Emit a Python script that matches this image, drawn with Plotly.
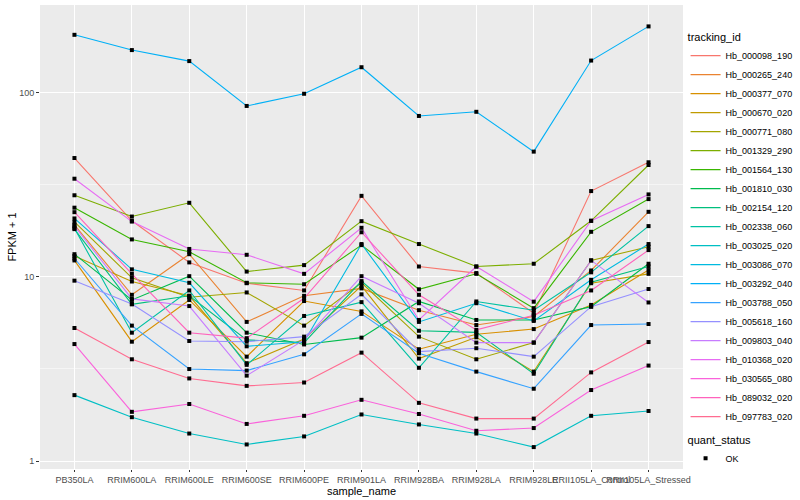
import plotly.graph_objects as go

samples = ["PB350LA", "RRIM600LA", "RRIM600LE", "RRIM600SE", "RRIM600PE", "RRIM901LA",
           "RRIM928BA", "RRIM928LA", "RRIM928LE", "RRII105LA_Control", "RRII105LA_Stressed"]

tracking_ids = ["Hb_000098_190", "Hb_000265_240", "Hb_000377_070", "Hb_000670_020", "Hb_000771_080",
                "Hb_001329_290", "Hb_001564_130", "Hb_001810_030", "Hb_002154_120", "Hb_002338_060",
                "Hb_003025_020", "Hb_003086_070", "Hb_003292_040", "Hb_003788_050", "Hb_005618_160",
                "Hb_009803_040", "Hb_010368_020", "Hb_030565_080", "Hb_089032_020", "Hb_097783_020"]

colors = ["#F8766D", "#EA8331", "#D89000", "#C09B00", "#A3A500", "#7CAE00", "#39B600", "#00BB4E",
          "#00BF7D", "#00C1A3", "#00BFC4", "#00BAE0", "#00B0F6", "#35A2FF", "#9590FF", "#C77CFF",
          "#E76BF3", "#FA62DB", "#FF62BC", "#FF6C91"]

# FPKM + 1 values, one list per tracking_id (order of samples)
Hb_000098_190 = [44.3, 20.2, 12.0, 9.25, 8.45, 27.6, 11.4, 10.5, 6.35, 29.3, 42.0]
Hb_000265_240 = [19.2, 8.0, 13.3, 5.7, 7.9, 8.67, 6.6, 5.48, 6.1, 10.85, 22.6]
Hb_000377_070 = [12.3, 4.45, 7.5, 3.69, 7.4, 6.5, 4.05, 4.88, 5.21, 7.05, 10.9]
Hb_000670_020 = [13.0, 9.45, 7.9, 3.4, 4.6, 8.95, 3.6, 4.7, 3.06, 9.25, 10.4]
Hb_000771_080 = [19.9, 9.9, 7.76, 8.24, 5.44, 9.3, 4.74, 3.57, 4.4, 12.3, 14.6]
Hb_001329_290 = [27.8, 21.3, 25.3, 10.7, 11.6, 20.1, 15.1, 11.4, 11.8, 20.2, 40.6]
Hb_001564_130 = [23.8, 16.0, 13.7, 9.3, 9.13, 14.9, 8.57, 10.4, 6.77, 17.6, 26.5]
Hb_001810_030 = [13.3, 7.5, 10.1, 4.98, 4.3, 4.68, 7.36, 5.84, 5.84, 6.9, 11.8]
Hb_002154_120 = [18.2, 7.1, 7.9, 4.55, 4.4, 9.5, 5.1, 5.0, 2.98, 9.37, 11.4]
Hb_002338_060 = [18.4, 4.98, 8.45, 3.33, 6.14, 7.3, 3.21, 7.36, 6.6, 10.6, 18.9]
Hb_003025_020 = [2.28, 1.73, 1.41, 1.23, 1.36, 1.79, 1.58, 1.41, 1.19, 1.76, 1.87]
Hb_003086_070 = [20.8, 11.0, 9.3, 4.2, 4.45, 15.1, 5.7, 7.2, 5.77, 9.65, 15.1]
Hb_003292_040 = [207, 171, 149, 85, 99, 138, 75, 79, 48, 150, 230]
Hb_003788_050 = [12.6, 5.44, 3.16, 3.1, 3.8, 6.3, 3.85, 3.06, 2.47, 5.48, 5.55]
Hb_005618_160 = [9.55, 7.13, 4.49, 4.45, 4.74, 8.05, 3.93, 4.1, 3.69, 6.9, 8.6]
Hb_009803_040 = [18.9, 7.6, 6.95, 2.91, 4.55, 10.1, 7.2, 4.4, 4.4, 12.3, 7.27]
Hb_010368_020 = [34.2, 20.0, 14.2, 13.2, 10.4, 18.5, 5.84, 11.4, 7.34, 20.2, 28.1]
Hb_030565_080 = [4.32, 1.85, 2.04, 1.59, 1.76, 2.15, 1.80, 1.46, 1.51, 2.43, 3.3]
Hb_089032_020 = [22.5, 10.4, 4.98, 4.65, 7.66, 17.5, 8.0, 5.16, 6.2, 8.45, 14.0]
Hb_097783_020 = [5.28, 3.57, 2.81, 2.56, 2.67, 3.88, 2.07, 1.70, 1.70, 3.03, 4.43]

series = [Hb_000098_190, Hb_000265_240, Hb_000377_070, Hb_000670_020, Hb_000771_080,
          Hb_001329_290, Hb_001564_130, Hb_001810_030, Hb_002154_120, Hb_002338_060,
          Hb_003025_020, Hb_003086_070, Hb_003292_040, Hb_003788_050, Hb_005618_160,
          Hb_009803_040, Hb_010368_020, Hb_030565_080, Hb_089032_020, Hb_097783_020]

y_ticks = [1, 10, 100]
y_ticktext = ["1", "10", "100"]

fig = go.Figure()

for name, vals, col in zip(tracking_ids, series, colors):
    fig.add_trace(go.Scatter(x=samples, y=vals, mode="lines", name=name,
                             line=dict(color=col, width=1.1), legend="legend",
                             hoverinfo="skip"))

all_x = [s for vals in series for s in samples]
all_y = [v for vals in series for v in vals]
fig.add_trace(go.Scatter(x=all_x, y=all_y, mode="markers", name="OK",
                         marker=dict(color="black", symbol="square", size=4),
                         legend="legend2", hoverinfo="skip"))

fig.update_layout(
    width=800, height=500,
    margin=dict(l=40, r=117, t=5, b=31, autoexpand=False),
    paper_bgcolor="white", plot_bgcolor="#EBEBEB",
    font=dict(family="Liberation Sans, Arial, sans-serif", color="black"),
    showlegend=True,
    legend=dict(title=dict(text="tracking_id", font=dict(size=11)),
                font=dict(size=9), x=1.004, xanchor="left", y=0.953, yanchor="top",
                tracegroupgap=0, itemwidth=30, bgcolor="rgba(0,0,0,0)"),
    legend2=dict(title=dict(text="quant_status", font=dict(size=11)),
                 font=dict(size=9), x=1.004, xanchor="left", y=0.085, yanchor="top",
                 itemwidth=30, bgcolor="rgba(0,0,0,0)"),
    xaxis=dict(type="category", categoryorder="array", categoryarray=samples,
               range=[-0.6, len(samples) - 0.4], tickangle=0, automargin=False,
               showgrid=True, gridcolor="white", gridwidth=1.1,
               ticks="outside", ticklen=2, tickcolor="#333333", tickwidth=1,
               tickfont=dict(size=9, color="#4D4D4D"), zeroline=False, showline=False,
               title=dict(text="sample_name", font=dict(size=11), standoff=2)),
    yaxis=dict(type="log", range=[-0.0435, 2.478], automargin=False,
               tickmode="array", tickvals=y_ticks, ticktext=y_ticktext,
               showgrid=True, gridcolor="white", gridwidth=1.1,
               minor=dict(tickmode="linear", tick0=0.5, dtick=1, showgrid=True,
                          gridcolor="#F5F5F5", gridwidth=0.6, ticks=""),
               ticks="outside", ticklen=3, tickcolor="#333333", tickwidth=1,
               tickfont=dict(size=9, color="#4D4D4D"), zeroline=False, showline=False,
               title=dict(text="FPKM + 1", font=dict(size=11), standoff=0)),
)

fig.write_html("out.html", config={"displayModeBar": False},
               post_script="document.body.style.margin='0';document.body.style.overflow='hidden';")
